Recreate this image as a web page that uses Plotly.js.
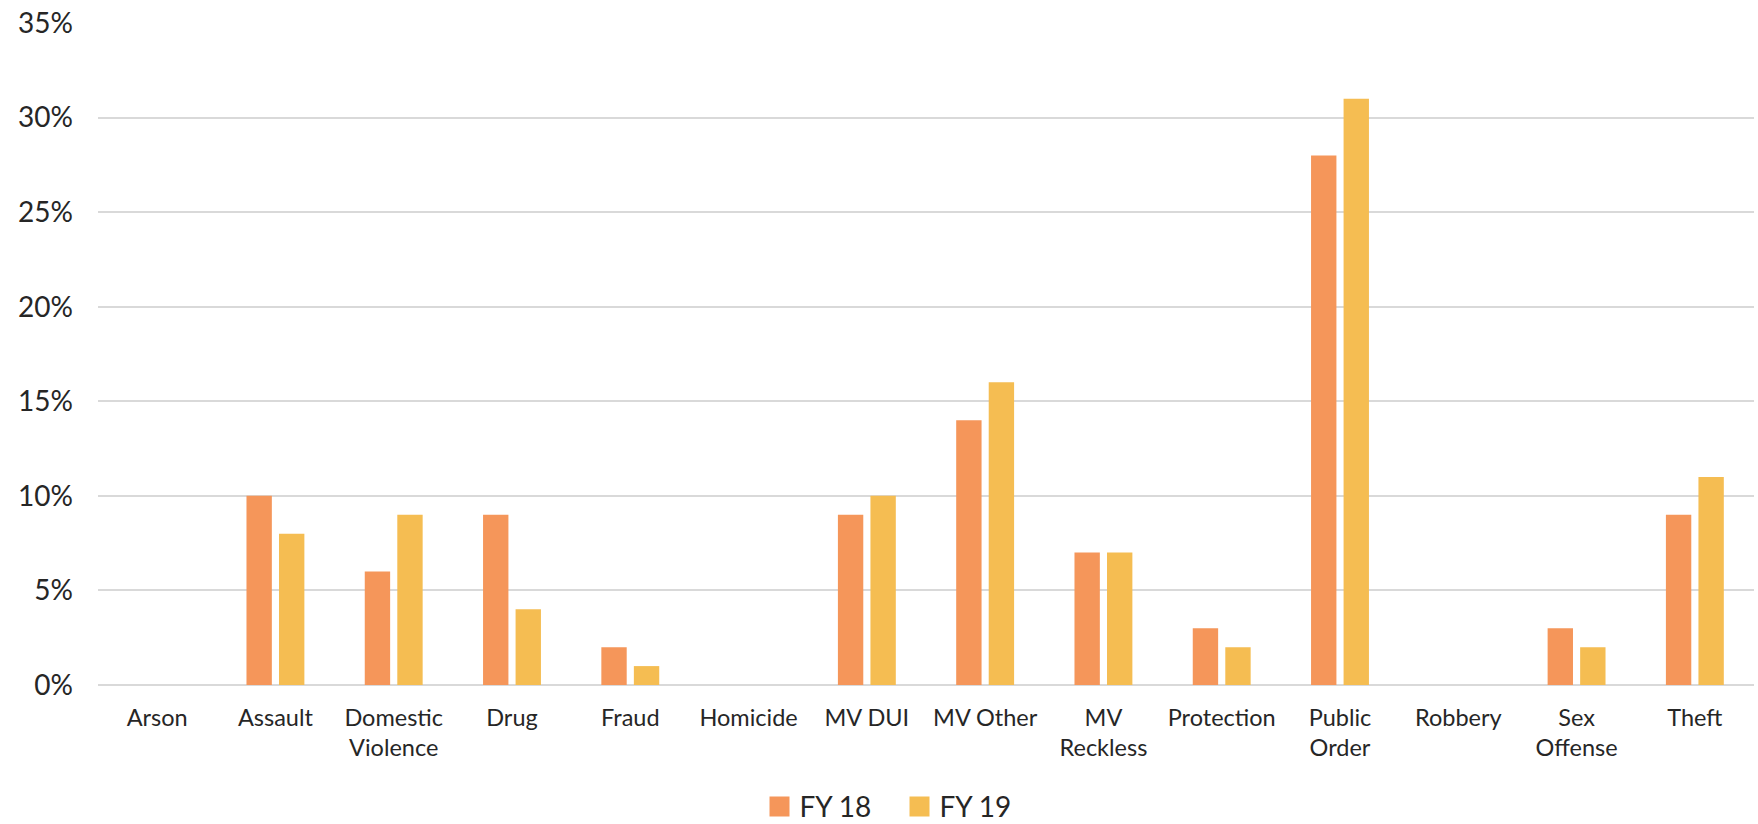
<!DOCTYPE html>
<html>
<head>
<meta charset="utf-8">
<script src="https://cdn.plot.ly/plotly-3.0.1.min.js"></script>
<style>
  html, body { margin: 0; padding: 0; background: #ffffff; }
  #chart { width: 1758px; height: 824px; }
</style>
</head>
<body>
<div id="chart"></div>
<script>
const categories = ["Arson", "Assault", "Domestic Violence", "Drug", "Fraud", "Homicide", "MV DUI", "MV Other", "MV Reckless", "Protection", "Public Order", "Robbery", "Sex Offense", "Theft"];
const tickLabels = ["Arson", "Assault", "Domestic<br>Violence", "Drug", "Fraud", "Homicide", "MV DUI", "MV Other", "MV<br>Reckless", "Protection", "Public<br>Order", "Robbery", "Sex<br>Offense", "Theft"];
const fy18 = [0, 10, 6, 9, 2, 0, 9, 14, 7, 3, 28, 0, 3, 9];
const fy19 = [0, 8, 9, 4, 1, 0, 10, 16, 7, 2, 31, 0, 2, 11];
const seriesNames = ["FY 18", "FY 19"];
const yTicks = [0, 5, 10, 15, 20, 25, 30, 35];

const FONT = "Lato, 'Open Sans', sans-serif";
const TEXT = "#262626";

const traces = [
  {
    type: "bar", name: seriesNames[0], x: categories, y: fy18,
    marker: { color: "#F5965A", line: { width: 0 } },
    hoverinfo: "x+y"
  },
  {
    type: "bar", name: seriesNames[1], x: categories, y: fy19,
    marker: { color: "#F5BD52", line: { width: 0 } },
    hoverinfo: "x+y"
  }
];

const layout = {
  width: 1758, height: 824,
  margin: { l: 98, r: 4, t: 23, b: 139, pad: 0, autoexpand: false },
  paper_bgcolor: "#ffffff", plot_bgcolor: "#ffffff",
  font: { family: FONT, color: TEXT },
  barmode: "group",
  bargap: 0.45,
  bargroupgap: 0.22,
  showlegend: true,
  legend: {
    orientation: "h", x: 0.484, xanchor: "center", y: -0.184, yanchor: "middle",
    font: { size: 28, color: TEXT, family: FONT },
    entrywidth: 95, entrywidthmode: "pixels",
    itemclick: false, itemdoubleclick: false
  },
  xaxis: {
    type: "category",
    tickmode: "array", tickvals: categories, ticktext: tickLabels,
    tickfont: { size: 23.5, color: TEXT, family: FONT },
    showgrid: false, zeroline: false, showline: false, ticks: "",
    ticklabelstandoff: 16,
    fixedrange: true
  },
  yaxis: {
    range: [0, 35],
    tickmode: "array", tickvals: yTicks, ticktext: yTicks.map(v => v + "%"),
    tickfont: { size: 28, color: TEXT, family: FONT },
    showgrid: true, gridcolor: "#D9D9D9", gridwidth: 2,
    zeroline: true, zerolinecolor: "#D9D9D9", zerolinewidth: 2,
    showline: false, ticks: "",
    ticklabelstandoff: 24,
    fixedrange: true
  }
};

Plotly.newPlot("chart", traces, layout, { displayModeBar: false }).then(function () {
  document.querySelectorAll("#chart .legendpoints path").forEach(function (p) {
    p.setAttribute("d", "M10,10H-10V-10H10Z");
    p.style.strokeWidth = "0";
  });
});
</script>
</body>
</html>
